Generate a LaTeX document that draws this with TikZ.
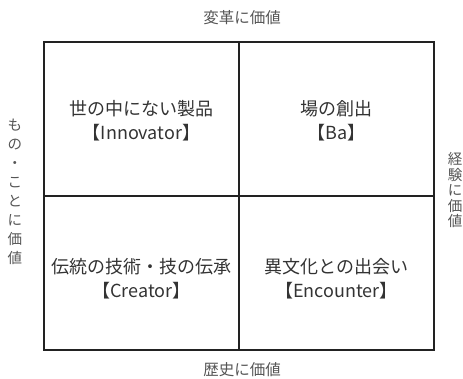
\documentclass[tikz,border=0pt]{standalone}
\usepackage{fontspec}
\newfontfamily\jp{Noto Sans CJK JP}
\definecolor{lineC}{HTML}{222222}
\definecolor{txtC}{HTML}{333333}
\definecolor{lblC}{HTML}{555555}
\begin{document}
\begin{tikzpicture}[x=1pt,y=-1pt,
  cell/.style={draw=lineC,line width=2pt,minimum width=195pt,minimum height=154pt,inner sep=0pt},
  celltext/.style={text=txtC,font=\jp\fontsize{18}{24}\selectfont,align=center,inner sep=0pt},
  lbl/.style={text=lblC,font=\jp\fontsize{15.5}{16}\selectfont,inner sep=0pt},
  vlbl/.style={lbl,align=center}]
\useasboundingbox (0,0) rectangle (463,378);
\node[cell] (tl) at (141.5,118.5) {};
\node[cell] (tr) at (336.5,118.5) {};
\node[cell] (bl) at (141.5,272.5) {};
\node[cell] (br) at (336.5,272.5) {};
\node[celltext] (tlt) at ([yshift=-2pt]tl.center) {世の中にない製品\\【Innovator】};
\node[celltext] (trt) at ([yshift=-2pt]tr.center) {場の創出\\【Ba】};
\node[celltext] (blt) at ([yshift=-6pt]bl.center) {伝統の技術・技の伝承\\【Creator】};
\node[celltext] (brt) at ([yshift=-6pt]br.center) {異文化との出会い\\【Encounter】};
\node[lbl] (top) at (242,18) {変革に価値};
\node[lbl] (bot) at (242,370) {歴史に価値};
\node[vlbl,font=\jp\fontsize{14.5}{19}\selectfont] (left) at (15,192) {も\\の\\・\\こ\\と\\に\\価\\値};
\node[vlbl,font=\jp\fontsize{14.5}{15.5}\selectfont] (right) at (455,190) {経\\験\\に\\価\\値};
\end{tikzpicture}
\end{document}
